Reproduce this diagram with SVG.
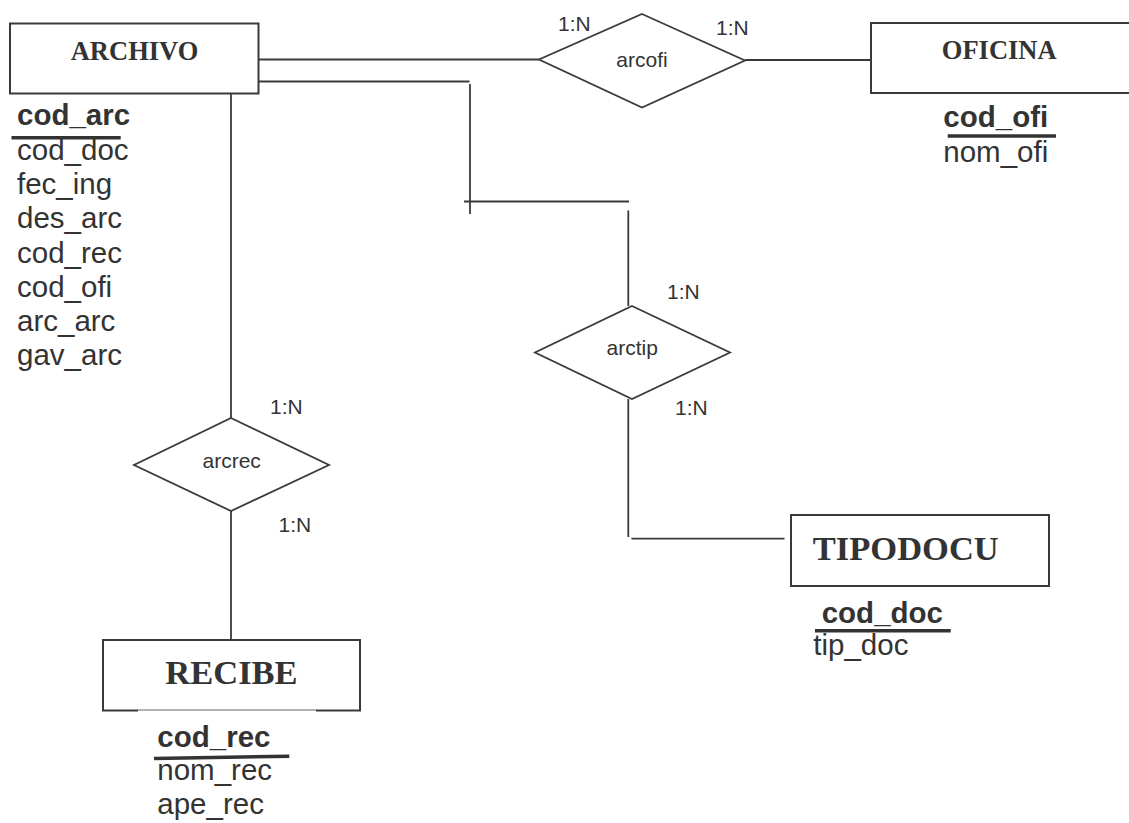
<svg xmlns="http://www.w3.org/2000/svg" width="1129" height="823" viewBox="0 0 1129 823">
<style>
.box{fill:#fff;stroke:#3a3a3a;stroke-width:2}
.ln{fill:none;stroke:#3a3a3a;stroke-width:1.8}
.dia{fill:#fff;stroke:#3a3a3a;stroke-width:1.8}
.ent{font-family:"Liberation Serif","Times New Roman",serif;font-weight:bold;fill:#333;text-anchor:middle}
.key{font-family:"Liberation Sans",Arial,sans-serif;font-weight:bold;font-size:29.5px;fill:#333}
.att{font-family:"Liberation Sans",Arial,sans-serif;font-size:29.5px;fill:#333}
.sm{font-family:"Liberation Sans",Arial,sans-serif;font-size:21px;fill:#333}
.rel{font-family:"Liberation Sans",Arial,sans-serif;font-size:21px;fill:#333;text-anchor:middle}
.ul{stroke:#333;stroke-width:3.5}
</style>
<rect width="1129" height="823" fill="#fff"/>
<g id="connectors">
<line class="ln" x1="259" y1="59.5" x2="539" y2="59.5"/>
<line class="ln" x1="745" y1="60" x2="871" y2="60"/>
<line class="ln" x1="259" y1="81.5" x2="469.5" y2="81.5"/>
<line class="ln" x1="470" y1="84" x2="470" y2="214"/>
<line class="ln" x1="464" y1="201.5" x2="629" y2="201.5"/>
<line class="ln" x1="628.3" y1="210.5" x2="628.3" y2="306"/>
<line class="ln" x1="628.3" y1="399" x2="628.3" y2="537"/>
<line class="ln" x1="631.5" y1="538.7" x2="784.5" y2="538.7"/>
<line class="ln" x1="231" y1="87" x2="231" y2="418"/>
<line class="ln" x1="231" y1="511" x2="231" y2="640"/>
<text class="sm" x="558" y="31">1:N</text>
<text class="sm" x="716" y="34.5">1:N</text>
<text class="sm" x="667" y="298.5">1:N</text>
<text class="sm" x="675" y="415">1:N</text>
<text class="sm" x="270" y="413.5">1:N</text>
<text class="sm" x="278.5" y="531.5">1:N</text>
</g>
<g id="archivo">
<rect class="box" x="10" y="23.5" width="248.5" height="70"/>
<text class="ent" x="134.5" y="60" font-size="26.5">ARCHIVO</text>
<text class="key" x="17" y="125">cod_arc</text>
<line class="ul" x1="11.5" y1="137.7" x2="120.7" y2="137.7"/>
<text class="att" x="17" y="160">cod_doc</text>
<text class="att" x="17" y="194">fec_ing</text>
<text class="att" x="17" y="228.4">des_arc</text>
<text class="att" x="17" y="262.6">cod_rec</text>
<text class="att" x="17" y="296.8">cod_ofi</text>
<text class="att" x="17" y="331">arc_arc</text>
<text class="att" x="17" y="365.2">gav_arc</text>
</g>
<g id="oficina">
<rect class="box" x="871" y="23" width="260" height="70"/>
<text class="ent" x="999.2" y="59.3" font-size="26.5">OFICINA</text>
<text class="key" x="943.3" y="126.7">cod_ofi</text>
<line class="ul" x1="947.7" y1="136" x2="1056" y2="136"/>
<text class="att" x="943.3" y="161.7">nom_ofi</text>
</g>
<g id="arcofi">
<polygon class="dia" points="642,14 745,60.5 642,107.5 539,59.5"/>
<text class="rel" x="642" y="66.5">arcofi</text>
</g>
<g id="arctip">
<polygon class="dia" points="632,306 730,352.5 632,399 535,352.5"/>
<text class="rel" x="632.3" y="355">arctip</text>
</g>
<g id="arcrec">
<polygon class="dia" points="231,418 329,465 231,511 134,465"/>
<text class="rel" x="231.7" y="467.5">arcrec</text>
</g>
<g id="recibe">
<path class="box" d="M103,710.5 V640 H360 V710.5"/>
<line stroke="#3a3a3a" stroke-width="2" x1="102" y1="710.5" x2="138" y2="710.5"/>
<line stroke="#666" stroke-width="1.2" x1="138" y1="710" x2="316" y2="710"/>
<line stroke="#3a3a3a" stroke-width="2" x1="316" y1="710.5" x2="361" y2="710.5"/>
<text class="ent" x="231.5" y="684" font-size="34.5">RECIBE</text>
<text class="key" x="157.3" y="746.7">cod_rec</text>
<line class="ul" x1="154" y1="758.5" x2="289.3" y2="756.3"/>
<text class="att" x="157.3" y="780">nom_rec</text>
<text class="att" x="157.3" y="814">ape_rec</text>
</g>
<g id="tipodocu">
<rect class="box" x="791" y="515" width="258" height="71"/>
<text class="ent" x="905.8" y="560" font-size="34.5">TIPODOCU</text>
<text class="key" x="821.7" y="623.3">cod_doc</text>
<line class="ul" x1="815" y1="630.7" x2="950.7" y2="630.7"/>
<text class="att" x="813.3" y="655">tip_doc</text>
</g>
</svg>
